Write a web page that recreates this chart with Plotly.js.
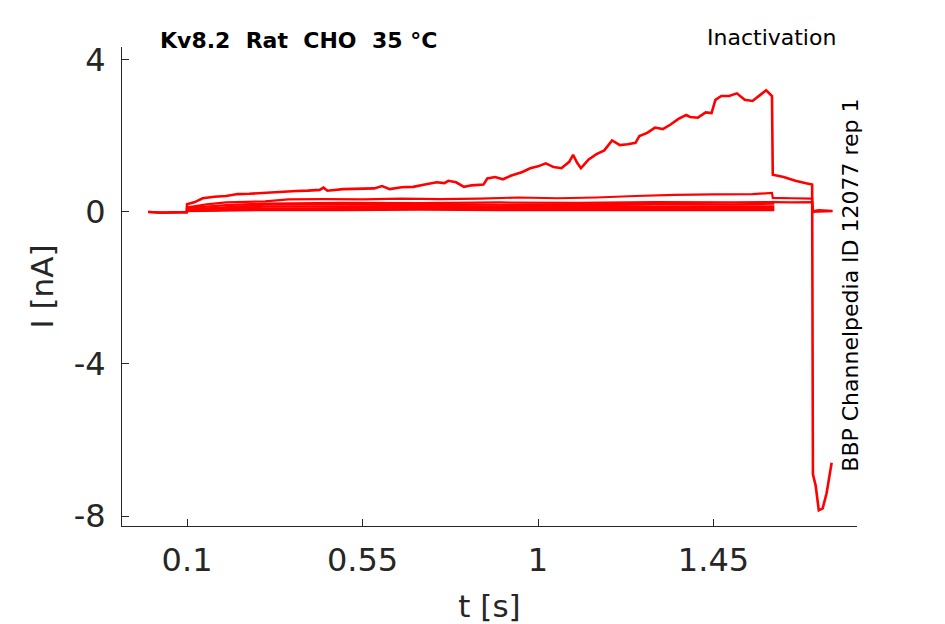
<!DOCTYPE html>
<html>
<head>
<meta charset="utf-8">
<script src="https://cdn.plot.ly/plotly-3.0.1.min.js"></script>
<style>
  html, body { margin: 0; padding: 0; background: #fff; }
  #plot { width: 945px; height: 624px; }
</style>
</head>
<body>
<div id="plot"></div>
<script>
// sweep 1 - the big one, ends with the tail current dip
const t1 = [0, 0.03, 0.06, 0.099, 0.1, 0.12, 0.14, 0.17, 0.2, 0.23, 0.26, 0.29, 0.32, 0.35, 0.38, 0.41, 0.44, 0.45, 0.46,
    0.5, 0.54, 0.58, 0.6, 0.62, 0.65, 0.68, 0.71, 0.74, 0.76, 0.77, 0.79, 0.81, 0.83, 0.86, 0.87, 0.89, 0.91, 0.93,
    0.96, 0.98, 1.0, 1.02, 1.04, 1.06, 1.08, 1.09, 1.1, 1.11, 1.13, 1.15, 1.17, 1.19, 1.21, 1.23, 1.25, 1.26, 1.28,
    1.3, 1.32, 1.34, 1.36, 1.38, 1.39, 1.41, 1.43, 1.445, 1.455, 1.47, 1.49, 1.51, 1.53, 1.55, 1.57, 1.585, 1.6,
    1.602, 1.63, 1.66, 1.69, 1.703, 1.705, 1.712, 1.72, 1.73, 1.74, 1.753];
const i1 = [0, -0.02, -0.01, -0.01, 0.2, 0.26, 0.36, 0.4, 0.42, 0.47, 0.48, 0.5, 0.52, 0.53, 0.55, 0.56, 0.58, 0.64, 0.56,
    0.6, 0.61, 0.62, 0.68, 0.6, 0.65, 0.66, 0.72, 0.78, 0.76, 0.82, 0.78, 0.66, 0.7, 0.72, 0.88, 0.92, 0.86, 0.95,
    1.05, 1.15, 1.2, 1.28, 1.18, 1.15, 1.32, 1.5, 1.3, 1.15, 1.38, 1.52, 1.62, 1.88, 1.76, 1.78, 1.82, 2.0, 2.08,
    2.22, 2.18, 2.3, 2.45, 2.55, 2.5, 2.48, 2.62, 2.6, 2.95, 3.05, 3.05, 3.12, 2.95, 2.92, 3.08, 3.2, 3.05,
    0.98, 0.92, 0.82, 0.75, 0.72, -6.9, -7.2, -7.85, -7.8, -7.4, -6.6];

// sweep 2
const t2 = [0, 0.05, 0.099, 0.1, 0.15, 0.2, 0.3, 0.36, 0.45, 0.55, 0.65, 0.75, 0.85, 0.95, 1.05, 1.15, 1.25, 1.35,
    1.45, 1.55, 1.6, 1.602, 1.65, 1.703, 1.705, 1.72, 1.755];
const i2 = [0, -0.02, 0, 0.12, 0.2, 0.25, 0.28, 0.33, 0.34, 0.33, 0.35, 0.34, 0.35, 0.38, 0.36, 0.38, 0.42, 0.45,
    0.46, 0.47, 0.5, 0.37, 0.36, 0.35, 0.02, 0.05, 0.03];

// sweep 3
const t3 = [0.1, 0.2, 0.3, 0.5, 0.7, 0.9, 1.1, 1.3, 1.5, 1.6, 1.602, 1.65, 1.703, 1.705, 1.755];
const i3 = [0.1, 0.18, 0.22, 0.24, 0.23, 0.25, 0.24, 0.26, 0.25, 0.27, 0.26, 0.25, 0.26, 0.0, 0.02];

// remaining sweeps (small currents)
const t4 = [0.1, 0.3, 0.5, 0.7, 0.9, 1.1, 1.3, 1.5, 1.606];
const i4 = [0.06, 0.19, 0.2, 0.21, 0.19, 0.2, 0.21, 0.2, 0.22];
const t5 = [0.1, 0.3, 0.5, 0.7, 0.9, 1.1, 1.3, 1.5, 1.606];
const i5 = [0.04, 0.14, 0.15, 0.16, 0.15, 0.16, 0.15, 0.16, 0.15];
const t6 = [0.1, 0.3, 0.5, 0.7, 0.9, 1.1, 1.3, 1.5, 1.606];
const i6 = [0.03, 0.09, 0.1, 0.1, 0.11, 0.1, 0.1, 0.11, 0.1];
const t7 = [0.1, 0.3, 0.5, 0.7, 0.9, 1.1, 1.3, 1.5, 1.606];
const i7 = [0.02, 0.05, 0.05, 0.06, 0.05, 0.05, 0.06, 0.05, 0.05];

const xTicks = [0.1, 0.55, 1, 1.45];
const xTickText = ['0.1', '0.55', '1', '1.45'];
const yTicks = [-8, -4, 0, 4];
const yTickText = ['-8', '-4', '0', '4'];

const sweeps = [[t7, i7], [t6, i6], [t5, i5], [t4, i4], [t3, i3], [t2, i2], [t1, i1]];

const FONT = 'DejaVu Sans, Arial, sans-serif';
const DARK = '#262626';

let data = sweeps.map((s, k) => ({
    x: s[0],
    y: s[1],
    mode: 'lines',
    // the last sweep is noisier in the recording, so it reads a bit thicker
    line: {color: '#ff0000', width: k === sweeps.length - 1 ? 2.6 : 2.2},
    hoverinfo: 'skip'
}));

let layout = {
    width: 945,
    height: 624,
    showlegend: false,
    paper_bgcolor: '#fff',
    plot_bgcolor: '#fff',
    margin: {l: 122, r: 88, t: 47, b: 98},
    font: {family: FONT, color: DARK},
    xaxis: {
        range: [-0.0668, 1.818],
        showline: true, linecolor: DARK, linewidth: 1,
        ticks: 'inside', ticklen: 7, tickcolor: DARK,
        tickvals: xTicks, ticktext: xTickText,
        tickfont: {size: 32, color: DARK, family: FONT},
        ticklabelstandoff: 6,
        showgrid: false, zeroline: false,
        title: {text: 't [s]', font: {size: 31, color: DARK, family: FONT}, standoff: 16}
    },
    yaxis: {
        range: [-8.263, 4.34],
        automargin: true,
        showline: true, linecolor: DARK, linewidth: 1,
        ticks: 'inside', ticklen: 7, tickcolor: DARK,
        tickvals: yTicks, ticktext: yTickText,
        tickfont: {size: 32, color: DARK, family: FONT},
        ticklabelstandoff: 9,
        showgrid: false, zeroline: false,
        title: {text: 'I [nA]', font: {size: 31, color: DARK, family: FONT}, standoff: 10}
    },
    annotations: [
        {
            text: '<b>Kv8.2\u00a0\u00a0Rat\u00a0\u00a0CHO\u00a0\u00a035 °C</b>',
            xref: 'paper', yref: 'paper', x: 0.049, y: 1.0146,
            xanchor: 'left', yanchor: 'middle', showarrow: false,
            font: {size: 22, color: '#000', family: FONT}
        },
        {
            text: 'Inactivation',
            xref: 'paper', yref: 'paper', x: 0.974, y: 1.0188,
            xanchor: 'right', yanchor: 'middle', showarrow: false,
            font: {size: 22, color: '#000', family: FONT}
        },
        {
            text: 'BBP Channelpedia ID 12077 rep 1',
            xref: 'paper', yref: 'paper', x: 0.990, y: 0.503,
            xanchor: 'center', yanchor: 'middle', showarrow: false,
            textangle: -90,
            font: {size: 22, color: '#000', family: FONT}
        }
    ]
};

Plotly.newPlot('plot', data, layout, {displayModeBar: false, staticPlot: true});
</script>
</body>
</html>
